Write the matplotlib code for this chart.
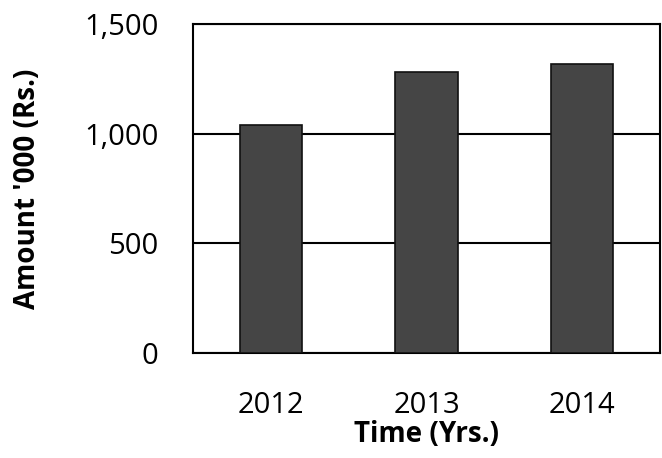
import matplotlib
matplotlib.use("Agg")
import matplotlib.pyplot as plt
from matplotlib.ticker import FuncFormatter

years = ["2012", "2013", "2014"]
amounts = [1037, 1280, 1317]
yticks = [0, 500, 1000, 1500]

plt.rcParams['font.family'] = ['Open Sans', 'DejaVu Sans']

fig = plt.figure(figsize=(6.62, 4.58), dpi=100)
ax = fig.add_axes([0.2915, 0.229, 0.7055, 0.719])

x = range(len(years))
ax.bar(x, amounts, width=0.4, color='#454545', edgecolor='#111111', linewidth=1.2, zorder=3)
ax.set_xlim(-0.5, 2.5)
ax.set_ylim(0, 1500)
ax.set_yticks(yticks)
ax.yaxis.set_major_formatter(FuncFormatter(lambda v, p: f"{int(v):,}"))
ax.set_xticks(list(x))
ax.set_xticklabels(years)
ax.grid(axis='y', color='black', linewidth=1.5, zorder=0)
for s in ax.spines.values():
    s.set_color('black')
    s.set_linewidth(1.5)
ax.tick_params(axis='both', length=0, labelsize=21)
ax.tick_params(axis='y', pad=25)
ax.tick_params(axis='x', pad=27)
ax.set_xlabel("Time (Yrs.)", fontsize=20, fontweight='bold', labelpad=0)
ax.set_ylabel("Amount '000 (Rs.)", fontsize=20, fontweight='bold', labelpad=30)

fig.savefig("out.png", dpi=100)
